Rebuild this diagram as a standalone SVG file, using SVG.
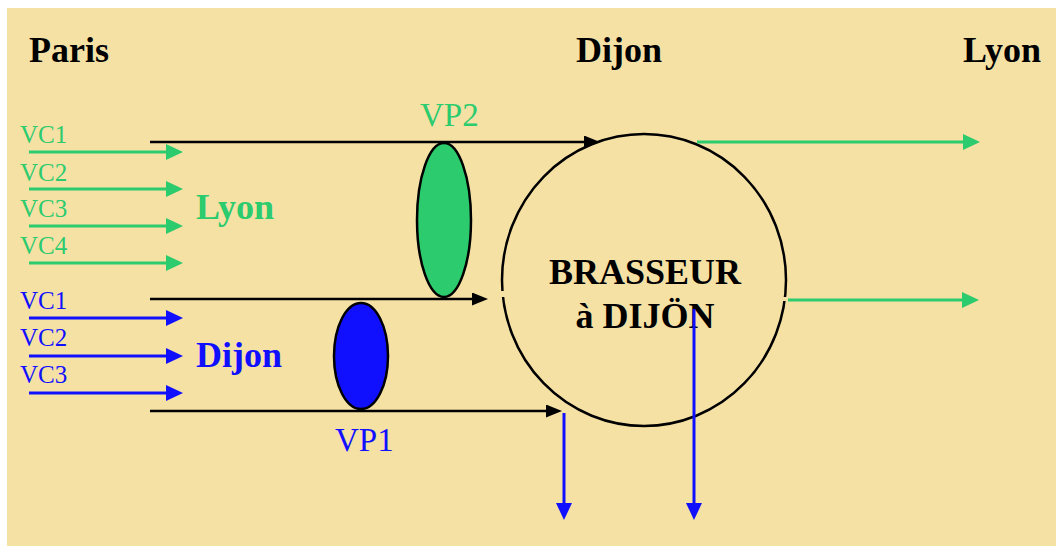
<svg xmlns="http://www.w3.org/2000/svg" width="1056" height="546" viewBox="0 0 1056 546">
  <style>
    .bg { fill: #F6E1A5; }
    .city { font-family: "Liberation Serif", "Times New Roman", serif; font-weight: bold; font-size: 36px; }
    .vc { font-family: "Liberation Serif", "Times New Roman", serif; font-size: 25px; }
    .vp { font-family: "Liberation Serif", "Times New Roman", serif; font-size: 33px; }
    .green { fill: #2BCB6E; }
    .blue { fill: #1010FF; }
    .black { fill: #000; }
    .ln-g { stroke: #2BCB6E; stroke-width: 3; fill: none; marker-end: url(#ah-green); }
    .ln-b { stroke: #1010FF; stroke-width: 3; fill: none; marker-end: url(#ah-blue); }
    .ln-k { stroke: #000; stroke-width: 2.5; fill: none; marker-end: url(#ah-black); }
    .vp-shape { stroke: #000; stroke-width: 2.5; }
  </style>
  <defs>
    <marker id="ah-green" markerUnits="userSpaceOnUse" viewBox="0 0 17 16" refX="11" refY="8" markerWidth="17" markerHeight="16" orient="auto">
      <path d="M0,0 L17,8 L0,16 z" fill="#2BCB6E"/>
    </marker>
    <marker id="ah-blue" markerUnits="userSpaceOnUse" viewBox="0 0 17 16" refX="11" refY="8" markerWidth="17" markerHeight="16" orient="auto">
      <path d="M0,0 L17,8 L0,16 z" fill="#1010FF"/>
    </marker>
    <marker id="ah-black" markerUnits="userSpaceOnUse" viewBox="0 0 16 13" refX="10" refY="6.5" markerWidth="16" markerHeight="13" orient="auto">
      <path d="M0,0 L16,6.5 L0,13 z" fill="#000"/>
    </marker>
  </defs>

  <rect class="bg" x="7" y="8" width="1049" height="538"/>

  <!-- city headings -->
  <g id="headings">
    <text class="city black" x="29" y="62">Paris</text>
    <text class="city black" x="576" y="62">Dijon</text>
    <text class="city black" x="963" y="62">Lyon</text>
  </g>

  <!-- virtual channels bound for Lyon -->
  <g id="vc-lyon">
    <text class="vc green" x="20" y="143">VC1</text>
    <text class="vc green" x="20" y="181">VC2</text>
    <text class="vc green" x="20" y="217">VC3</text>
    <text class="vc green" x="20" y="254">VC4</text>
    <text class="city green" x="196" y="219">Lyon</text>
  </g>

  <!-- virtual channels bound for Dijon -->
  <g id="vc-dijon">
    <text class="vc blue" x="20" y="309">VC1</text>
    <text class="vc blue" x="20" y="346">VC2</text>
    <text class="vc blue" x="20" y="383">VC3</text>
    <text class="city blue" x="196" y="367">Dijon</text>
  </g>

  <!-- cross-connect at Dijon -->
  <g id="brasseur">
    <ellipse cx="644" cy="280" rx="142" ry="146" fill="none" stroke="#000" stroke-width="2.5"/>
    <rect class="bg" x="497" y="291" width="8" height="6"/>
    <rect class="bg" x="783" y="297" width="8" height="4"/>
    <text class="city black" x="645" y="284" text-anchor="middle">BRASSEUR</text>
    <text class="city black" x="645" y="328" text-anchor="middle">à DIJÖN</text>
  </g>

  <!-- connectors -->
  <g id="connectors">
    <path class="ln-g" d="M29,152 H177"/>
    <path class="ln-g" d="M29,189 H177"/>
    <path class="ln-g" d="M29,226 H177"/>
    <path class="ln-g" d="M29,263 H177"/>
    <path class="ln-b" d="M29,318 H177"/>
    <path class="ln-b" d="M29,356 H177"/>
    <path class="ln-b" d="M29,393 H177"/>
    <path class="ln-k" d="M150,142 H594"/>
    <path class="ln-k" d="M150,299 H482"/>
    <path class="ln-k" d="M150,411 H556"/>
    <path class="ln-g" d="M697,142 H974"/>
    <path class="ln-g" d="M788,300 H973"/>
    <path class="ln-b" d="M564,413 V514"/>
    <path class="ln-b" d="M694,309 V514"/>
  </g>

  <!-- virtual path VP2 -->
  <g id="vp2">
    <ellipse class="vp-shape green" cx="444" cy="220" rx="27" ry="77"/>
    <text class="vp green" x="420" y="126">VP2</text>
  </g>

  <!-- virtual path VP1 -->
  <g id="vp1">
    <ellipse class="vp-shape blue" cx="361" cy="356" rx="27" ry="53"/>
    <text class="vp blue" x="335" y="451">VP1</text>
  </g>
</svg>
